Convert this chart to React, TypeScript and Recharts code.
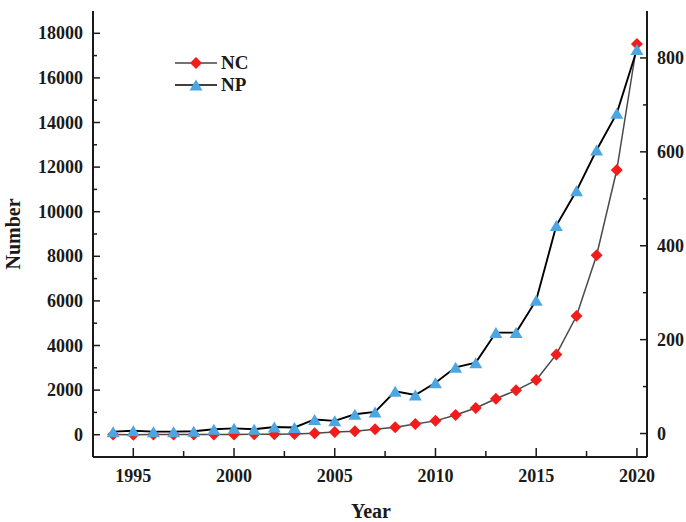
import React from "react";
import { LineChart, Line, XAxis, YAxis, Legend } from "recharts";

const years = [
  1994, 1995, 1996, 1997, 1998, 1999, 2000, 2001, 2002, 2003, 2004, 2005, 2006, 2007,
  2008, 2009, 2010, 2011, 2012, 2013, 2014, 2015, 2016, 2017, 2018, 2019, 2020,
];
// NC on the left axis
const ncValues = [
  5, 3, 4, 6, 8, 10, 14, 18, 25, 35, 60, 120, 160, 240, 330, 480, 620, 880, 1200, 1610,
  1990, 2450, 3600, 5320, 8050, 11870, 17520,
];
// NP on the right axis
const npValues = [
  4, 6, 4, 4, 5, 9, 11, 9, 14, 13, 30, 27, 41, 46, 90, 82, 108, 141, 151, 215, 215, 284,
  443, 517, 604, 682, 818,
];
const xTicks = [1995, 1997.5, 2000, 2002.5, 2005, 2007.5, 2010, 2012.5, 2015, 2017.5, 2020];
const leftTicks = Array.from({ length: 19 }, (_, i) => i * 1000);
const rightTicks = [0, 100, 200, 300, 400, 500, 600, 700, 800];

const data = years.map((year, i) => ({ year, NC: ncValues[i], NP: npValues[i] }));

const font = '"Liberation Serif", "Times New Roman", serif';
const ink = "#1a1a1a";
const red = "#f21c1c";
const blue = "#4ba6e2";

const labelStyle = { fontFamily: font, fontWeight: 700, fontSize: 18, fill: ink };

const LeftTick = ({ x, y, payload }: any) => {
  const major = payload.value % 2000 === 0;
  return (
    <g>
      <line x1={x} x2={x + (major ? 7 : 4)} y1={y} y2={y} stroke={ink} strokeWidth={1.5} />
      {major && (
        <text x={x - 10} y={y} dy={6} textAnchor="end" style={labelStyle}>
          {payload.value}
        </text>
      )}
    </g>
  );
};

const RightTick = ({ x, y, payload }: any) => {
  const major = payload.value % 200 === 0;
  return (
    <g>
      <line x1={x} x2={x - (major ? 7 : 4)} y1={y} y2={y} stroke={ink} strokeWidth={1.5} />
      {major && (
        <text x={x + 10} y={y} dy={6} textAnchor="start" style={labelStyle}>
          {payload.value}
        </text>
      )}
    </g>
  );
};

const BottomTick = ({ x, y, payload }: any) => {
  const major = payload.value % 5 === 0;
  return (
    <g>
      <line x1={x} x2={x} y1={y} y2={y - (major ? 9 : 6)} stroke={ink} strokeWidth={1.5} />
      {major && (
        <text x={x} y={y + 25} textAnchor="middle" style={labelStyle}>
          {payload.value}
        </text>
      )}
    </g>
  );
};

const Diamond = ({ cx, cy }: any) => {
  if (cx == null || cy == null) return null;
  const r = 6;
  return <polygon points={`${cx},${cy - r} ${cx + r},${cy} ${cx},${cy + r} ${cx - r},${cy}`} fill={red} />;
};

const Triangle = ({ cx, cy }: any) => {
  if (cx == null || cy == null) return null;
  const w = 6.5;
  const h = 5.5;
  return <polygon points={`${cx},${cy - h} ${cx + w},${cy + h} ${cx - w},${cy + h}`} fill={blue} />;
};

const YTitle = () => (
  <text x={20} y={234} transform="rotate(-90 20 234)" textAnchor="middle" style={{ ...labelStyle, fontSize: 20 }}>
    Number
  </text>
);

const XTitle = () => (
  <text x={371} y={518} textAnchor="middle" style={{ ...labelStyle, fontSize: 20 }}>
    Year
  </text>
);

const LegendBox = () => (
  <svg width={114} height={52} style={{ display: "block" }}>
    <line x1={30} x2={72} y1={15} y2={15} stroke="#444" strokeWidth={1.4} />
    <Diamond cx={51} cy={15} />
    <text x={76} y={21} style={{ ...labelStyle, fontSize: 19 }}>NC</text>
    <line x1={30} x2={72} y1={37} y2={37} stroke="#000" strokeWidth={1.6} />
    <Triangle cx={51} cy={37} />
    <text x={76} y={43} style={{ ...labelStyle, fontSize: 19 }}>NP</text>
  </svg>
);

export default function App() {
  return (
    <div style={{ position: "absolute", left: 0, top: 0, width: 686, height: 522, background: "#fff" }}>
      <LineChart width={686} height={522} data={data} margin={{ top: 11, right: 0, bottom: 0, left: 0 }}>
        <XAxis
          dataKey="year"
          type="number"
          domain={[1993, 2020.5]}
          ticks={xTicks}
          interval={0}
          height={65}
          tickSize={0}
          tickMargin={0}
          tickLine={false}
          tick={<BottomTick />}
          axisLine={{ stroke: ink, strokeWidth: 2 }}
          label={<XTitle />}
        />
        <XAxis
          xAxisId="top"
          orientation="top"
          dataKey="year"
          type="number"
          domain={[1993, 2020.5]}
          height={0}
          tick={false}
          tickLine={false}
          axisLine={{ stroke: ink, strokeWidth: 2 }}
        />
        <YAxis
          yAxisId="left"
          domain={[-1000, 19000]}
          ticks={leftTicks}
          interval={0}
          width={93}
          tickSize={0}
          tickMargin={0}
          tickLine={false}
          tick={<LeftTick />}
          axisLine={{ stroke: ink, strokeWidth: 2 }}
          label={<YTitle />}
        />
        <YAxis
          yAxisId="right"
          orientation="right"
          domain={[-50, 900]}
          ticks={rightTicks}
          interval={0}
          width={39}
          tickSize={0}
          tickMargin={0}
          tickLine={false}
          tick={<RightTick />}
          axisLine={{ stroke: ink, strokeWidth: 2 }}
        />
        <Legend
          layout="horizontal"
          verticalAlign="middle"
          align="center"
          content={<LegendBox />}
          wrapperStyle={{ left: 145, top: 48, width: 114, height: 52 }}
        />
        <Line
          yAxisId="left"
          dataKey="NC"
          name="NC"
          stroke="#4a4a4a"
          strokeWidth={1.5}
          dot={<Diamond />}
          activeDot={false}
          isAnimationActive={false}
        />
        <Line
          yAxisId="right"
          dataKey="NP"
          name="NP"
          stroke="#000"
          strokeWidth={1.9}
          dot={<Triangle />}
          activeDot={false}
          isAnimationActive={false}
        />
      </LineChart>
    </div>
  );
}
